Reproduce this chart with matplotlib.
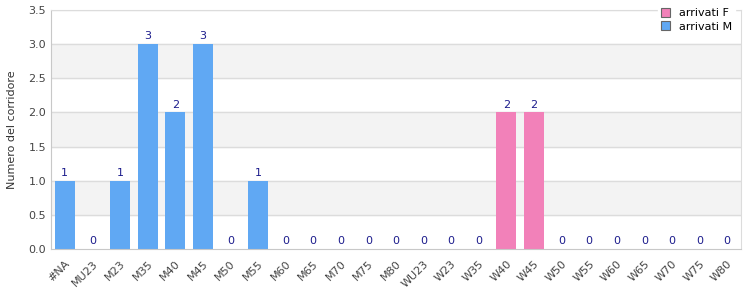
import numpy as np
import matplotlib.pyplot as plt

categories = ["#NA", "MU23", "M23", "M35", "M40", "M45", "M50", "M55", "M60", "M65",
              "M70", "M75", "M80", "WU23", "W23", "W35", "W40", "W45", "W50", "W55",
              "W60", "W65", "W70", "W75", "W80"]
arrivati_m = [1, 0, 1, 3, 2, 3, 0, 1, 0, 0, 0, 0, 0, 0, 0, 0, 0, 0, 0, 0, 0, 0, 0, 0, 0]
arrivati_f = [0, 0, 0, 0, 0, 0, 0, 0, 0, 0, 0, 0, 0, 0, 0, 0, 2, 2, 0, 0, 0, 0, 0, 0, 0]

plt.rcParams['font.family'] = ['DejaVu Sans']
fig = plt.figure(figsize=(7.5, 3), dpi=100)
ax = fig.add_axes([0.068, 0.17, 0.92, 0.797])

x = np.arange(len(categories))
m = np.array(arrivati_m)
f = np.array(arrivati_f)

# alternating bands
for lo in [0.5, 1.5, 2.5]:
    ax.axhspan(lo, lo + 0.5, color="#f3f3f3", zorder=0)
for yv in np.arange(0.5, 3.6, 0.5):
    ax.axhline(yv, color="#dcdcdc", lw=1, zorder=1)

ax.bar(x, f, width=0.72, bottom=m, color="#f281b9", label="arrivati F", zorder=2)
ax.bar(x, m, width=0.72, color="#60a8f3", label="arrivati M", zorder=2)

tot = m + f
for xi, t in zip(x, tot):
    ax.text(xi, t + 0.04, str(t), ha="center", va="bottom", fontsize=8, color="#1c1c8c")

ax.set_xlim(-0.5, len(categories) - 0.5)
ax.set_ylim(0, 3.5)
ax.set_yticks(np.arange(0, 3.6, 0.5))
ax.set_yticklabels([f"{v:.1f}" for v in np.arange(0, 3.6, 0.5)])
ax.set_xticks(x)
ax.set_xticklabels(categories, rotation=45, ha="right", rotation_mode="anchor")
ax.tick_params(axis="both", labelsize=8, colors="#444444", length=0)
ax.tick_params(axis="x", pad=7)
ax.set_ylabel("Numero del corridore", fontsize=8, color="#333333", labelpad=8)

for s in ["left", "bottom"]:
    ax.spines[s].set_color("#c8c8c8")
for s in ["top", "right"]:
    ax.spines[s].set_color("#dcdcdc")

leg = ax.legend(loc="upper right", bbox_to_anchor=(1.0, 1.045), fontsize=8, frameon=True,
                handlelength=0.8, handleheight=0.8, borderpad=0.3, labelspacing=0.3,
                fancybox=False, edgecolor="white", framealpha=1)
for h in leg.legend_handles:
    h.set_edgecolor("#666666")
    h.set_linewidth(0.8)

fig.savefig("out.png")
